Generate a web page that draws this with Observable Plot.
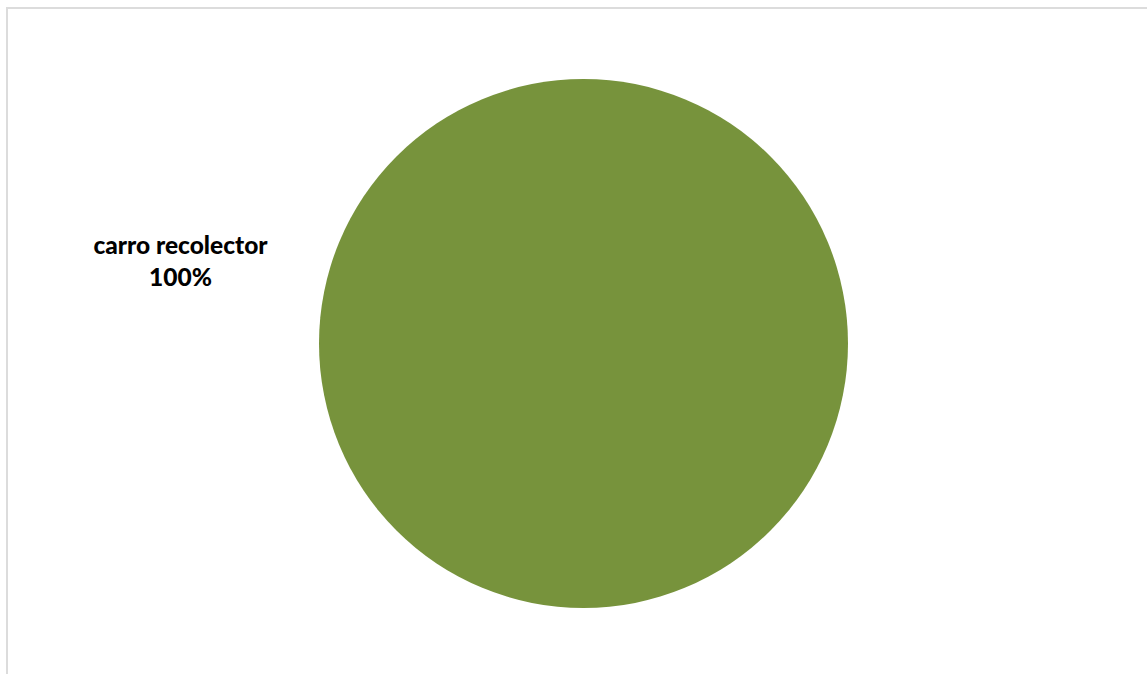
<!DOCTYPE html>
<html>
<head>
<meta charset="utf-8">
<script src="https://cdn.jsdelivr.net/npm/d3@7"></script>
<script src="https://cdn.jsdelivr.net/npm/@observablehq/plot@0.6"></script>
<style>
  html, body { margin: 0; padding: 0; background: #fff; overflow: hidden; }
  #wrap { position: relative; width: 1147px; height: 674px; }
  #border { position: absolute; left: 6px; top: 7px; width: 1160px; height: 700px;
            border-left: 2px solid #dcdcdc; border-top: 2px solid #dcdcdc; box-sizing: border-box; }
  #chart { position: absolute; left: 0; top: 0; }
</style>
</head>
<body>
<div id="wrap"><div id="border"></div><div id="chart"></div></div>
<script>
const categories = ["carro recolector"];
const values = [100];
const colors = ["#77933c"];

const total = d3.sum(values);
const data = categories.map((c, i) => ({
  category: c,
  value: values[i],
  share: values[i] / total,
  label: `${c}\n${Math.round(values[i] / total * 100)}%`
}));

const chart = Plot.plot({
  width: 1147,
  height: 674,
  marginLeft: 19,
  marginRight: 0,
  marginTop: 12,
  marginBottom: 0,
  r: { type: "sqrt", domain: [0, 1], range: [0, 264.5] },
  color: { domain: categories, range: colors },
  style: { background: "transparent" },
  marks: [
    Plot.dot(data, {
      frameAnchor: "middle",
      r: "share",
      fill: "category",
      stroke: null,
      style: "filter: drop-shadow(0px 2px 6px rgba(0,0,0,0.4));"
    }),
    Plot.text(data, {
      frameAnchor: "middle",
      text: "label",
      dx: -403,
      dy: -84,
      fontFamily: "Lato, 'Open Sans', sans-serif",
      fontWeight: 900,
      fontSize: 24.5,
      lineHeight: 1.3,
      fill: "#000",
      textAnchor: "middle"
    })
  ]
});
document.getElementById("chart").appendChild(chart);
</script>
</body>
</html>
